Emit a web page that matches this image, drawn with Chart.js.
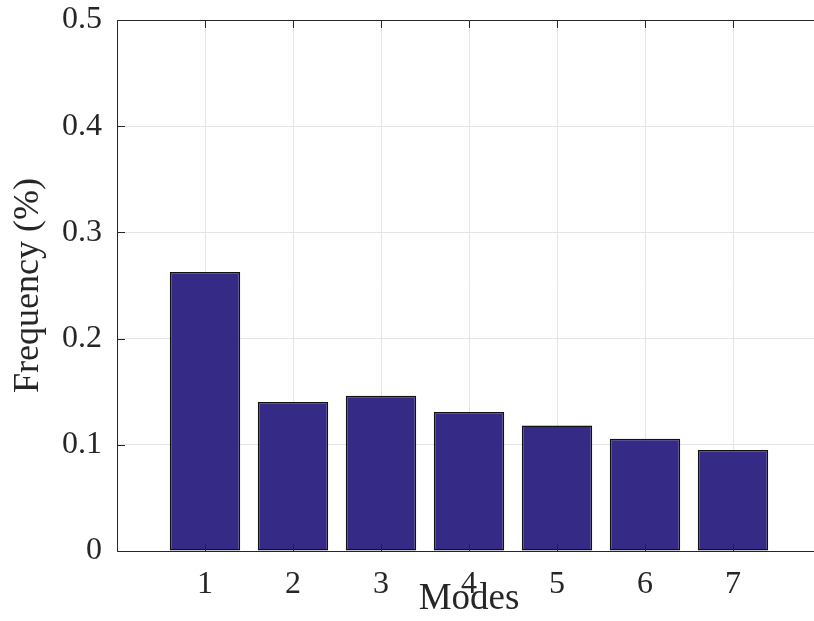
<!DOCTYPE html>
<html>
<head>
<meta charset="utf-8">
<script src="https://cdn.jsdelivr.net/npm/chart.js@4.4.1/dist/chart.umd.min.js"></script>
<style>
  html, body { margin: 0; padding: 0; background: #fff; overflow: hidden; }
  #wrap { position: absolute; left: 0; top: 0; width: 840px; height: 621px; }
</style>
</head>
<body>
<div id="wrap"><canvas id="chart"></canvas></div>
<script>
// data
const modes = ['1', '2', '3', '4', '5', '6', '7'];
const frequency = [0.2627, 0.1404, 0.1463, 0.1310, 0.1181, 0.1058, 0.0952];
const yTickLabels = ['0', '0.1', '0.2', '0.3', '0.4', '0.5'];

// empty slots at both ends so the axis runs 0..8 like the matlab figure
const labels = ['', ...modes, ''];
const values = [null, ...frequency, null];

const axisColor = '#262626';
const serif = "'Liberation Serif', 'DejaVu Serif', serif";

// box round the plot area plus inward tick marks
const boxPlugin = {
    id: 'box',
    afterDatasetsDraw(chart) {
        const { ctx, chartArea: a, scales } = chart;
        const L = Math.round(a.left) + 0.5, R = Math.round(a.right) + 0.5;
        const T = Math.round(a.top) + 0.5, B = Math.round(a.bottom) + 0.5;
        const len = 7.5;
        ctx.save();
        ctx.strokeStyle = axisColor;
        ctx.lineWidth = 1;
        ctx.beginPath();
        ctx.rect(L, T, R - L, B - T);
        scales.x.ticks.forEach((t, i) => {
            if (i === 0 || i === labels.length - 1) return;
            const x = Math.round(scales.x.getPixelForTick(i)) + 0.5;
            ctx.moveTo(x, B); ctx.lineTo(x, B - len);
            ctx.moveTo(x, T); ctx.lineTo(x, T + len);
        });
        scales.y.ticks.forEach((t, i) => {
            const y = Math.round(scales.y.getPixelForTick(i)) + 0.5;
            ctx.moveTo(L, y); ctx.lineTo(L + len, y);
            ctx.moveTo(R, y); ctx.lineTo(R - len, y);
        });
        ctx.stroke();
        ctx.restore();
    }
};

new Chart(document.getElementById('chart'), {
    type: 'bar',
    data: {
        labels: labels,
        datasets: [{
            data: values,
            backgroundColor: '#352a86',
            borderColor: '#111',
            borderWidth: 1.5,
            borderSkipped: false,
            barPercentage: 0.8,
            categoryPercentage: 1
        }]
    },
    options: {
        responsive: true,
        maintainAspectRatio: false,
        animation: false,
        layout: { padding: { top: 20, right: 19, bottom: 0, left: 0 } },
        plugins: { legend: { display: false }, tooltip: { enabled: false } },
        scales: {
            x: {
                offset: false,
                grid: { color: '#e4e4e4', drawTicks: false, offset: false },
                border: { display: false },
                ticks: { color: axisColor, padding: 14, font: { family: serif, size: 32 } },
                title: {
                    display: true, text: 'Modes', color: axisColor,
                    font: { family: serif, size: 37 }, padding: { top: 0, bottom: 0 }
                },
                afterFit: s => { s.height = 70; s.paddingLeft = 0; s.paddingRight = 0; }
            },
            y: {
                min: 0, max: 0.5,
                grid: { color: '#e4e4e4', drawTicks: false },
                border: { display: false },
                ticks: {
                    stepSize: 0.1, color: axisColor, padding: 15,
                    font: { family: serif, size: 32 },
                    callback: (v, i) => yTickLabels[i]
                },
                title: {
                    display: true, text: 'Frequency (%)', color: axisColor,
                    font: { family: serif, size: 36 }, padding: { top: 7, bottom: 0 }
                },
                afterFit: s => { s.width = 117; s.paddingTop = 0; s.paddingBottom = 0; }
            }
        }
    },
    plugins: [boxPlugin]
});
</script>
</body>
</html>
